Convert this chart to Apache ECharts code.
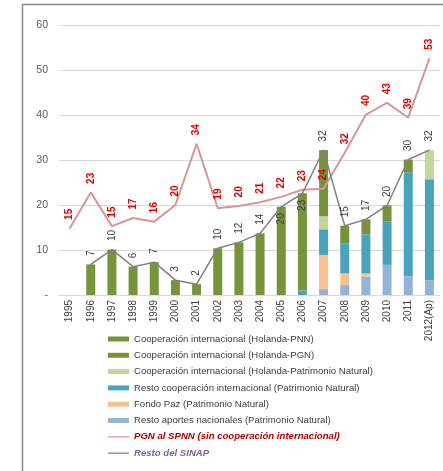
<!DOCTYPE html>
<html><head><meta charset="utf-8">
<script src="https://cdn.jsdelivr.net/npm/echarts@6/dist/echarts.min.js"></script>
<style>html,body{margin:0;padding:0;background:#fff}#c{width:443px;height:471px}</style>
</head><body><div id="c"></div>
<script>
const years = ['1995','1996','1997','1998','1999','2000','2001','2002','2003','2004','2005','2006','2007','2008','2009','2010','2011','2012(Ap)'];
const restoAportes = [0,0,0,0,0,0,0,0,0,0,0,0,1.3,2.2,4.1,6.7,4.2,3.2];
const fondoPaz     = [0,0,0,0,0,0,0,0,0,0,0,0,7.6,2.6,0.7,0,0,0];
const restoCoop    = [0,0,0,0,0,0,0,0,0,0,0,1.0,5.7,6.7,8.7,9.7,23.0,22.5];
const holandaPN    = [0,0,0,0,0,0,0,0,0,0,0,0,2.9,0,0,0,0,6.5];
const holandaPNN   = [0,6.8,10.1,6.3,7.3,3.3,2.4,10.4,11.7,13.7,19.6,21.6,0,0,0,0,0,0];
const holandaPGN   = [0,0,0,0,0,0,0,0,0,0,0,0,14.7,3.9,3.3,3.5,2.9,0];
const pgnSpnn      = [14.8,22.8,15.3,17.1,16.3,20.0,33.6,19.3,19.8,20.6,21.8,23.4,23.6,31.6,40.1,42.7,39.4,52.6];
const restoSinap   = [null,6.8,10.1,6.3,7.3,3.3,2.4,10.4,11.7,13.7,19.6,22.6,32.2,15.4,16.8,19.9,30.1,32.2];
const insideLabelYears = ['2005','2006'];

const FONT = 'Liberation Sans';
const names = {
  pnn:'Cooperación internacional (Holanda-PNN)',
  pgn:'Cooperación internacional (Holanda-PGN)',
  pn:'Cooperación internacional (Holanda-Patrimonio Natural)',
  rc:'Resto cooperación internacional (Patrimonio Natural)',
  fp:'Fondo Paz (Patrimonio Natural)',
  ra:'Resto aportes nacionales (Patrimonio Natural)',
  red:'PGN al SPNN (sin cooperación internacional)',
  gray:'Resto del SINAP'
};
const lineIcon = 'path://M0,0L0.001,0M0,1.9L21,1.9L21,3.1L0,3.1ZM0,5L0.001,5';
function bar(name, data, color){
  return {name, type:'bar', stack:'t', data:data.map(v=>v===0?null:v), barWidth:9,
    itemStyle:{color}, emphasis:{disabled:true}, z:2};
}
const grayData = restoSinap.map((v,i)=> insideLabelYears.includes(years[i]) ?
  {value:v, label:{position:'bottom', align:'right', distance:6}} : v);

const chart = echarts.init(document.getElementById('c'), null, {renderer:'canvas'});
chart.setOption({
  animation:false,
  textStyle:{fontFamily:FONT},
  grid:{left:59, right:3, top:25, bottom:176, containLabel:false},
  xAxis:{type:'category', data:years, boundaryGap:true,
    axisLine:{lineStyle:{color:'#d9d9d9'}}, axisTick:{show:false},
    axisLabel:{rotate:90, fontSize:10, color:'#404040', margin:5, fontFamily:FONT, interval:0}},
  yAxis:{type:'value', min:0, max:60, interval:10,
    axisLine:{show:false}, axisTick:{show:false},
    splitLine:{lineStyle:{color:'#d9d9d9'}},
    axisLabel:{fontSize:10.5, color:'#595959', margin:11, fontFamily:FONT,
      formatter:v=> v===0?'-':String(v)}},
  legend:{orient:'vertical', left:103, top:328, itemWidth:21, itemHeight:5, itemGap:4.3,
    textStyle:{fontSize:9.6, color:'#404040', fontFamily:FONT, lineHeight:12},
    data:[
      {name:names.pnn, icon:'rect'},
      {name:names.pgn, icon:'rect'},
      {name:names.pn, icon:'rect'},
      {name:names.rc, icon:'rect'},
      {name:names.fp, icon:'rect'},
      {name:names.ra, icon:'rect'},
      {name:names.red, icon:lineIcon, textStyle:{color:'#b00000', fontWeight:'bold', fontStyle:'italic'}},
      {name:names.gray, icon:lineIcon, textStyle:{color:'#7a62a0', fontWeight:'bold', fontStyle:'italic'}}
    ]},
  graphic:[
    {type:'line', shape:{x1:22.5,y1:4.5,x2:22.5,y2:471}, style:{stroke:'#8a8a8a', lineWidth:1.5}, silent:true},
    {type:'line', shape:{x1:22,y1:4.5,x2:443,y2:4.5}, style:{stroke:'#8a8a8a', lineWidth:1.5}, silent:true}
  ],
  series:[
    bar(names.ra, restoAportes, '#95b3d7'),
    bar(names.fp, fondoPaz, '#fac090'),
    bar(names.rc, restoCoop, '#4aa3bd'),
    bar(names.pn, holandaPN, '#c3d69b'),
    bar(names.pnn, holandaPNN, '#77933c'),
    bar(names.pgn, holandaPGN, '#76923c'),
    {name:names.red, type:'line', data:pgnSpnn, symbol:'circle', symbolSize:1, showSymbol:true, z:3,
      lineStyle:{color:'#d99694', width:2}, itemStyle:{color:'#d99694'},
      label:{show:true, position:'top', rotate:90, align:'left', verticalAlign:'middle', distance:8,
        color:'#e00000', fontWeight:'bold', fontSize:10, fontFamily:FONT,
        formatter:p=>Math.round(p.value)}},
    {name:names.gray, type:'line', data:grayData, symbol:'circle', symbolSize:1, showSymbol:true, z:4, connectNulls:false,
      lineStyle:{color:'#808080', width:1.5}, itemStyle:{color:'#808080'},
      label:{show:true, position:'top', rotate:90, align:'left', verticalAlign:'middle', distance:8,
        color:'#404040', fontSize:10, fontFamily:FONT,
        formatter:p=>Math.round(p.value)}}
  ]
});
</script></body></html>
